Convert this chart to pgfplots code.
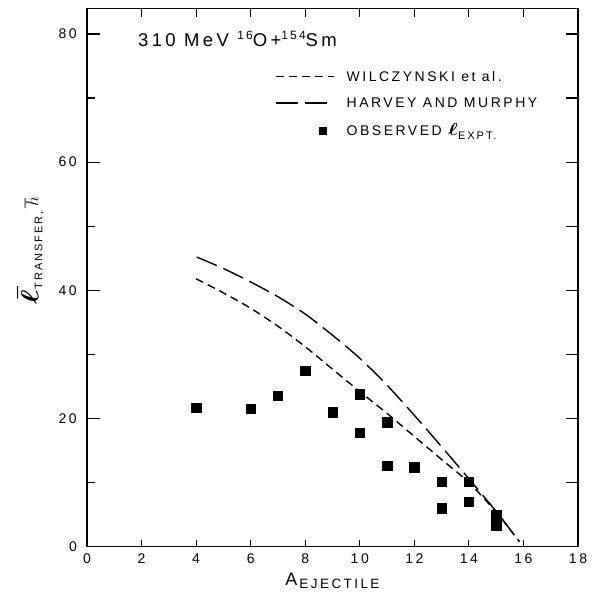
\documentclass[border=0pt]{standalone}
\usepackage{fontspec}
\usepackage{graphicx}
\usepackage{pgfplots}
\pgfplotsset{compat=1.18}
\usepackage{pgfplotstable}
\setmainfont{Liberation Sans}
\newfontfamily\lfont[LetterSpace=18]{Liberation Sans}

\pgfplotsset{
  marklegend/.style={legend image code/.code={\path[draw=none,fill=none] (0pt,-3pt) rectangle (58pt,3pt); \draw[##1, mark size=3.5pt] plot coordinates {(47pt,0pt)};}},
  myframe/.style={scale only axis, width=491pt, height=538.4pt,
    xmin=0, xmax=18, ymin=0, ymax=84, tick align=inside,
    axis line style={line width=1.3pt},
    every tick/.style={line width=1.2pt, black},
    /pgf/number format/assume math mode=true,
    ticklabel style={font=\lfont\fontsize{14}{14}\selectfont}},
  tickbar/.style={forget plot, black, solid, line width=1.2pt, mark=none},
}

\pgfplotstableread{
x y
4 21.7
6 21.5
7 23.6
8 27.5
9 21.0
10 23.8
10 17.8
11 19.4
11 12.6
12 12.4
13 10.1
13 6.0
14 10.1
14 7.0
15 4.9
15 3.3
}\obs

\pgfplotstableread{
x y
4.00 41.8
5.00 39.6
6.00 37.2
7.00 34.4
8.00 31.2
9.00 27.7
10.00 24.2
11.00 20.8
12.00 17.2
13.00 13.6
14.00 10.0
15.00 5.4
15.85 0.8
}\wil

\pgfplotstableread{
x y
4.02 45.2
5.00 43.4
6.00 41.3
7.00 39.0
8.00 36.3
9.00 33.0
10.00 29.4
11.00 25.2
12.00 20.5
13.00 15.6
14.00 10.6
15.00 5.5
15.85 0.8
}\har

\begin{document}
\begin{tikzpicture}
\begin{axis}[
  name=main, myframe,
  xtick={0,2,...,18}, ytick=\empty,
  xtick pos=left, major tick length=0pt,
  xticklabel style={anchor=north, inner sep=0pt, yshift=-7pt},
  every axis x label/.style={at={(rel axis cs:0.5,0)}, anchor=base, yshift=-38.3pt, inner sep=0pt},
  every axis y label/.style={at={(rel axis cs:0,0.55)}, xshift=-43pt, rotate=90, anchor=south, inner sep=0pt},
  xlabel={{\lfont\fontsize{18}{18}\selectfont A}\hspace{2pt}\raisebox{-3pt}{\lfont\fontsize{13.5}{13.5}\selectfont EJECTILE}},
  ylabel={\scalebox{1.25}[1]{\fontsize{26}{26}\selectfont\boldmath$\bar{\ell}$}\raisebox{-4pt}{\lfont\fontsize{11}{11}\selectfont TRANSFER,}\hspace{3pt}{\fontsize{18}{18}\selectfont$\hbar$}},
  legend style={draw=none, fill=none, at={(rel axis cs:0.383,0.884)}, anchor=north west,
    inner sep=0pt, row sep=15pt, font=\lfont\fontsize{14}{16}\selectfont,
    nodes={inner sep=0pt},
    /tikz/every odd column/.append style={column sep=12pt}},
  legend cell align=left,
  legend image code/.code={\draw[#1] (0pt,0pt) -- (58pt,0pt);},
]
\addplot[black, line width=1.4pt, dash pattern=on 8pt off 5pt, smooth] table {\wil};
\addlegendentry{WILCZYNSKI et al.}
\addplot[black, line width=1.4pt, dash pattern=on 22pt off 7pt, smooth] table {\har};
\addlegendentry{HARVEY AND MURPHY}
\addplot[only marks, mark=square*, mark size=4.7pt, black, marklegend] table {\obs};
\addlegendentry{OBSERVED \scalebox{1.2}[1]{\fontsize{19}{19}\selectfont\boldmath$\ell$}\raisebox{-4pt}{\lfont\fontsize{11}{11}\selectfont EXPT.}}
% x-axis tick marks at bottom and top
\addplot[tickbar] coordinates {(2,0) (2,1.12)};
\addplot[tickbar] coordinates {(4,0) (4,1.12)};
\addplot[tickbar] coordinates {(6,0) (6,1.12)};
\addplot[tickbar] coordinates {(8,0) (8,1.12)};
\addplot[tickbar] coordinates {(10,0) (10,1.12)};
\addplot[tickbar] coordinates {(12,0) (12,1.12)};
\addplot[tickbar] coordinates {(14,0) (14,1.12)};
\addplot[tickbar] coordinates {(16,0) (16,1.12)};
\addplot[tickbar] coordinates {(2,84) (2,82.72)};
\addplot[tickbar] coordinates {(4,84) (4,82.72)};
\addplot[tickbar] coordinates {(6,84) (6,82.72)};
\addplot[tickbar] coordinates {(8,84) (8,82.72)};
\addplot[tickbar] coordinates {(10,84) (10,82.72)};
\addplot[tickbar] coordinates {(12,84) (12,82.72)};
\addplot[tickbar] coordinates {(14,84) (14,82.72)};
\addplot[tickbar] coordinates {(16,84) (16,82.72)};
\node[anchor=base west, inner sep=0pt, font=\lfont\fontsize{18.5}{18.5}\selectfont] at (axis cs:1.87,78)
  {310 MeV \raisebox{7pt}{\fontsize{12}{12}\selectfont 16}O+\raisebox{7pt}{\fontsize{12}{12}\selectfont 154}Sm};
\end{axis}
\begin{axis}[
  at={(main.south west)}, anchor=south west, myframe,
  xtick=\empty, ytick={0,20,...,80}, minor y tick num=1,
  ytick pos=left, major tick length=13pt, minor tick length=8pt,
  yticklabel style={anchor=east, inner sep=0pt, xshift=-10pt},
]
\end{axis}
\begin{axis}[
  at={(main.south west)}, anchor=south west, myframe,
  xtick=\empty, ytick={10,20,...,80}, yticklabels={},
  ytick pos=right, major tick length=12pt,
]
\end{axis}
\pgfresetboundingbox
\path ([shift={(-87pt,-48.3pt)}]main.south west) rectangle ++(600pt,595pt);
\end{tikzpicture}
\end{document}
